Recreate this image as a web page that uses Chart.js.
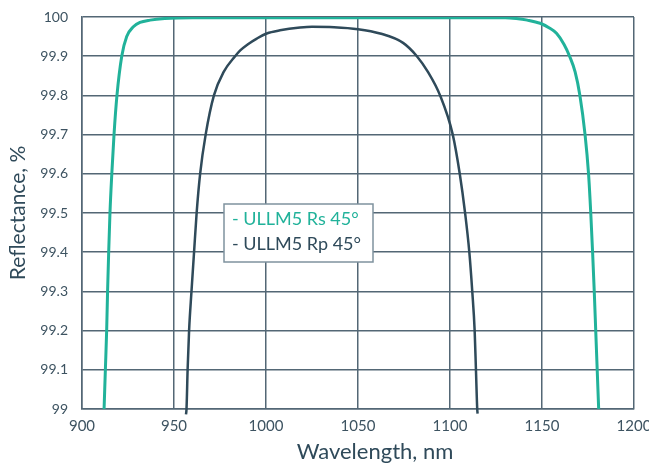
<!DOCTYPE html>
<html>
<head>
<meta charset="utf-8">
<script src="https://cdn.jsdelivr.net/npm/chart.js@4.4.1/dist/chart.umd.min.js"></script>
<style>
  html, body { margin: 0; padding: 0; background: #ffffff; }
  #wrap { position: relative; width: 649px; height: 466px; }
</style>
</head>
<body>
<div id="wrap"><canvas id="chart" width="649" height="466"></canvas></div>
<script>
// Reflectance of ULLM5 mirror, s- and p-polarisation at 45° incidence
const seriesLabels = ['- ULLM5 Rs 45°', '- ULLM5 Rp 45°'];
const xTitle = 'Wavelength, nm';
const yTitle = 'Reflectance, %';

const rsWavelength = [
  912, 912.7, 913.4, 913.9, 914.5, 915.2, 916.2, 917.4, 919.0, 921.6,
  924.3, 927.9, 931.5, 937, 945, 960, 1000, 1050, 1100, 1130,
  1136, 1142, 1149, 1154, 1158, 1162, 1165, 1168, 1170.6, 1173.4,
  1175.3, 1176.5, 1177.5, 1178.4, 1179.2, 1180.0, 1180.8
];
const rsReflectance = [
  99.0, 99.1, 99.2, 99.3, 99.4, 99.5, 99.6, 99.7, 99.8, 99.9,
  99.95, 99.975, 99.986, 99.992, 99.996, 99.998, 99.998, 99.998, 99.998, 99.998,
  99.996, 99.992, 99.984, 99.972, 99.958, 99.93, 99.9, 99.86, 99.8, 99.7,
  99.6, 99.5, 99.4, 99.3, 99.2, 99.1, 99.0
];

const rpWavelength = [
  956.5, 956.8, 957.4, 958.2, 959.5, 960.9, 962.3, 964.2, 967.2, 971.7,
  977, 983.2, 986, 990, 995, 1000.4, 1007.6, 1018.5, 1025, 1037,
  1050, 1062, 1074.5, 1082, 1088, 1094.6, 1101.5, 1105.3, 1108.2, 1110.5,
  1112.1, 1113.4, 1114.1, 1114.8, 1115
];
const rpReflectance = [
  98.986, 99.0, 99.1, 99.2, 99.3, 99.4, 99.5, 99.6, 99.7, 99.8,
  99.86, 99.9, 99.915, 99.93, 99.945, 99.958, 99.966, 99.973, 99.975, 99.974,
  99.969, 99.958, 99.934, 99.9, 99.86, 99.8, 99.7, 99.6, 99.5, 99.4,
  99.3, 99.2, 99.1, 99.0, 98.988
];

const xTicks = [900, 950, 1000, 1050, 1100, 1150, 1200];
const yTicks = [99, 99.1, 99.2, 99.3, 99.4, 99.5, 99.6, 99.7, 99.8, 99.9, 100];

const TEAL = '#21b29a';
const SLATE = '#2f4a5a';
const GRID = '#536775';
const FONT = 'Lato, "Open Sans", sans-serif';

const toPoints = (xs, ys) => xs.map((x, i) => ({ x: x, y: ys[i] }));

// Boxed legend inside the plot area, plus the wavelength axis caption
const annotations = {
  id: 'annotations',
  afterDraw(chart) {
    const ctx = chart.ctx;
    const a = chart.chartArea;
    ctx.save();

    const left = a.left + 142, top = a.top + 187, w = 149, h = 58;
    ctx.fillStyle = '#ffffff';
    ctx.fillRect(left, top, w, h);
    ctx.strokeStyle = '#7f929e';
    ctx.lineWidth = 1.5;
    ctx.strokeRect(left, top, w, h);
    ctx.font = '18px ' + FONT;
    ctx.textBaseline = 'alphabetic';
    ctx.textAlign = 'left';
    chart.data.datasets.forEach((ds, i) => {
      ctx.fillStyle = ds.borderColor;
      ctx.fillText(ds.label, left + 8, top + 21 + i * 25);
    });

    ctx.font = '22px ' + FONT;
    ctx.fillStyle = SLATE;
    ctx.textAlign = 'center';
    ctx.textBaseline = 'middle';
    ctx.fillText(xTitle, (a.left + a.right) / 2 + 17, a.bottom + 43);
    ctx.restore();
  }
};

new Chart(document.getElementById('chart'), {
  type: 'line',
  data: {
    datasets: [
      {
        label: seriesLabels[0],
        data: toPoints(rsWavelength, rsReflectance),
        borderColor: TEAL,
        borderWidth: 3,
        pointRadius: 0,
        cubicInterpolationMode: 'monotone',
        fill: false
      },
      {
        label: seriesLabels[1],
        data: toPoints(rpWavelength, rpReflectance),
        borderColor: SLATE,
        borderWidth: 2.5,
        pointRadius: 0,
        cubicInterpolationMode: 'monotone',
        fill: false,
        clip: { left: 0, top: 0, right: 0, bottom: 8 }
      }
    ]
  },
  options: {
    responsive: false,
    animation: false,
    devicePixelRatio: 1,
    layout: { padding: { top: 17, right: 15, left: 0, bottom: 0 } },
    plugins: {
      legend: { display: false },
      tooltip: { enabled: false }
    },
    scales: {
      x: {
        type: 'linear',
        min: xTicks[0],
        max: xTicks[xTicks.length - 1],
        afterBuildTicks(scale) { scale.ticks = xTicks.map(v => ({ value: v })); },
        afterFit(scale) {
          scale.height = 57;
          scale.paddingLeft = 0;
          scale.paddingRight = 0;
        },
        ticks: {
          color: '#3d5361',
          font: { family: FONT, size: 15 },
          padding: 8,
          callback: v => String(v)
        },
        grid: { color: GRID, lineWidth: 1.5, drawTicks: false },
        border: { color: GRID, width: 1.5 }
      },
      y: {
        type: 'linear',
        min: yTicks[0],
        max: yTicks[yTicks.length - 1],
        afterBuildTicks(scale) { scale.ticks = yTicks.map(v => ({ value: v })); },
        afterFit(scale) {
          scale.width = 82;
          scale.paddingTop = 0;
          scale.paddingBottom = 0;
        },
        ticks: {
          color: '#3d5361',
          font: { family: FONT, size: 14 },
          padding: 14,
          callback: v => String(Math.round(v * 10) / 10)
        },
        grid: { color: GRID, lineWidth: 1.5, drawTicks: false },
        border: { color: GRID, width: 1.5 },
        title: {
          display: true,
          text: yTitle,
          color: SLATE,
          font: { family: FONT, size: 21 },
          padding: { top: 6, bottom: 0 }
        }
      }
    }
  },
  plugins: [annotations]
});
</script>
</body>
</html>
